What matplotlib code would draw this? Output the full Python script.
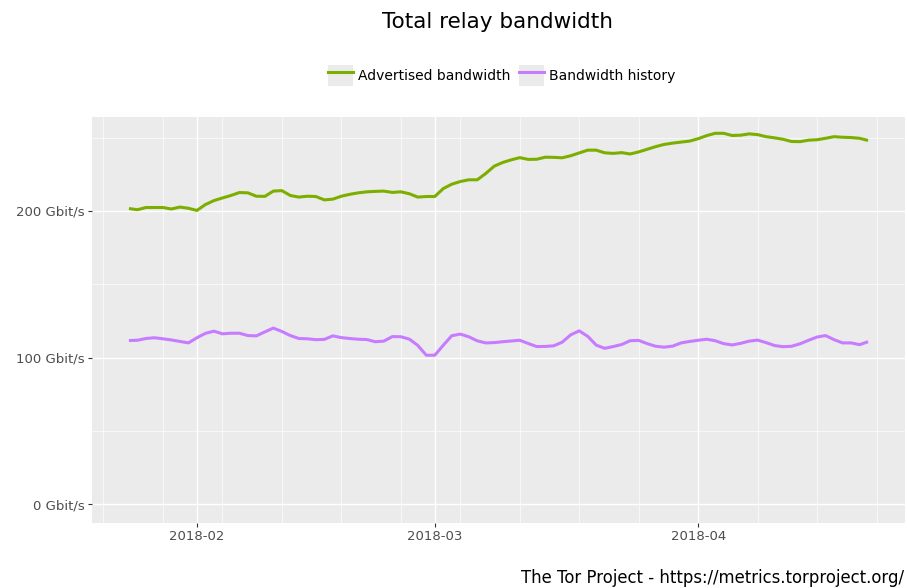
import numpy as np
import pandas as pd
import matplotlib
matplotlib.use("Agg")
import matplotlib.pyplot as plt
import matplotlib.dates as mdates
from matplotlib.lines import Line2D
from matplotlib.patches import Patch
from matplotlib.ticker import FuncFormatter, MultipleLocator

# daily values, Gbit/s
dates = pd.date_range("2018-01-24", "2018-04-21", freq="D")

advertised = [201.6, 200.8, 202.3, 202.3, 202.3, 201.3, 202.6, 201.8, 200.3, 204.3,
              207.0, 208.8, 210.5, 212.5, 212.3, 210.0, 209.9, 213.5, 213.8, 210.5,
              209.4, 210.0, 209.8, 207.5, 208.0, 210.0, 211.3, 212.3, 213.0, 213.3,
              213.5, 212.6, 213.0, 211.7, 209.4, 209.8, 209.8, 215.2, 218.2, 220.0,
              221.2, 221.2, 225.5, 230.5, 233.0, 234.8, 236.3, 235.1, 235.2, 236.6,
              236.5, 236.2, 237.6, 239.5, 241.4, 241.4, 239.6, 239.2, 239.7, 238.8,
              240.2, 242.0, 243.8, 245.3, 246.2, 246.9, 247.6, 249.2, 251.3, 252.9,
              252.9, 251.4, 251.6, 252.5, 252.0, 250.6, 249.8, 248.8, 247.3, 247.2,
              248.2, 248.5, 249.5, 250.6, 250.2, 250.0, 249.5, 248.0]

history = [111.6, 111.8, 113.0, 113.5, 112.8, 112.0, 111.0, 110.0, 113.5, 116.5,
           118.0, 116.2, 116.6, 116.6, 115.0, 114.8, 117.5, 120.1, 117.8, 115.0,
           113.0, 112.8, 112.2, 112.4, 114.8, 113.6, 113.0, 112.5, 112.3, 110.8,
           111.2, 114.3, 114.2, 112.6, 108.3, 101.6, 101.6, 108.4, 114.9, 116.0,
           114.2, 111.4, 110.0, 110.2, 110.8, 111.3, 111.8, 109.6, 107.5, 107.6,
           108.0, 110.5, 115.5, 118.2, 114.5, 108.5, 106.3, 107.5, 108.9, 111.5,
           111.7, 109.5, 107.7, 107.1, 107.8, 110.0, 111.0, 111.8, 112.5, 111.5,
           109.5, 108.6, 109.7, 111.2, 111.9, 110.2, 108.2, 107.4, 107.7, 109.4,
           111.8, 114.0, 115.0, 112.2, 110.0, 110.0, 108.8, 110.8]

labels = ["Advertised bandwidth", "Bandwidth history"]
colors = ["#7CAE00", "#C77CFF"]

fig = plt.figure(figsize=(9.07, 5.88), dpi=100)
ax = fig.add_axes([0.1014, 0.111, 0.8964, 0.690])
ax.set_facecolor("#EBEBEB")
for s in ax.spines.values():
    s.set_visible(False)

ax.plot(dates, advertised, color=colors[0], lw=2.2, solid_capstyle="butt")
ax.plot(dates, history, color=colors[1], lw=2.2, solid_capstyle="butt")

span = dates[-1] - dates[0]
ax.set_xlim(dates[0] - span * 0.05, dates[-1] + span * 0.05)
ax.set_ylim(-12.6, 264)

ax.xaxis.set_major_locator(mdates.MonthLocator())
ax.xaxis.set_major_formatter(mdates.DateFormatter("%Y-%m"))
ax.xaxis.set_minor_locator(mdates.WeekdayLocator(byweekday=mdates.SU))
ax.yaxis.set_major_locator(MultipleLocator(100))
ax.yaxis.set_minor_locator(MultipleLocator(50))
ax.yaxis.set_major_formatter(FuncFormatter(lambda v, p: "%d Gbit/s" % v))

ax.grid(which="major", color="white", lw=0.95)
ax.grid(which="minor", color="white", lw=0.45)
ax.set_axisbelow(True)
ax.tick_params(which="major", length=3, width=0.8, color="#333333",
               labelsize=9.5, labelcolor="#4D4D4D", pad=2)
ax.tick_params(which="minor", length=0)

fig.text(0.549, 0.963, "Total relay bandwidth", ha="center", va="center",
         fontsize=15.5, color="black")

handles = [(Patch(facecolor="#EBEBEB", edgecolor="none"),
            Line2D([], [], color=c, lw=2.2)) for c in colors]
fig.legend(handles, labels, loc="center", bbox_to_anchor=(0.553, 0.872), ncol=2,
           frameon=False, fontsize=10, handlelength=1.8, handleheight=1.9,
           handletextpad=0.36, columnspacing=0.6, borderpad=0)

fig.text(0.997, 0.017, "The Tor Project - https://metrics.torproject.org/",
         ha="right", va="center", fontsize=11.9, color="black")

fig.savefig("out.png", dpi=100)
